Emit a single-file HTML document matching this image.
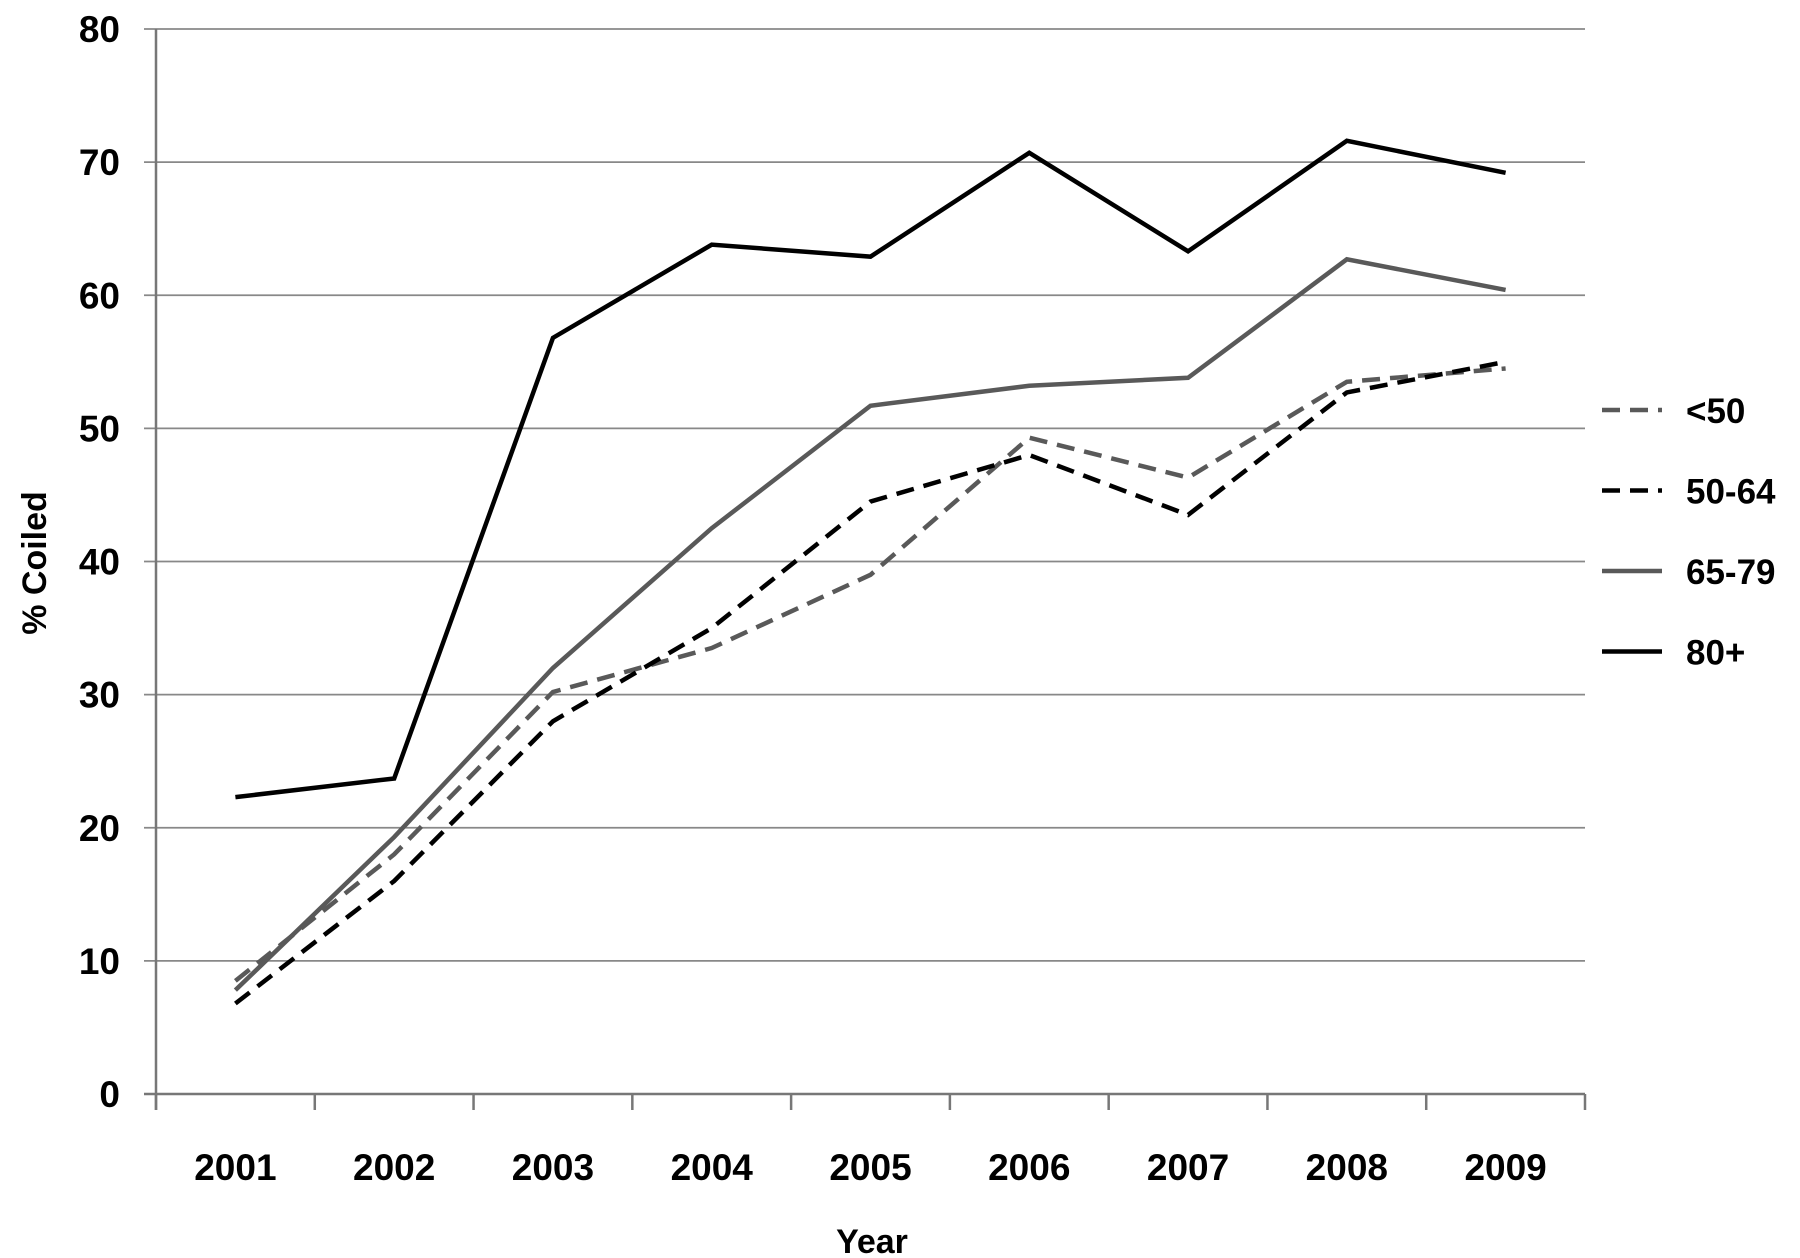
<!DOCTYPE html>
<html><head><meta charset="utf-8"><style>
html,body{margin:0;padding:0;background:#fff;}
svg{display:block;font-family:"Liberation Sans",sans-serif;font-weight:bold;}
</style></head><body>
<svg id="chart" width="1800" height="1258" viewBox="0 0 1800 1258" xmlns="http://www.w3.org/2000/svg">
<g id="grid"></g>
<g id="axes"></g>
<g id="series"></g>
<g id="legend"></g>
<text x="872" y="1253" font-size="34" text-anchor="middle">Year</text>
<text transform="translate(46,563) rotate(-90)" font-size="34" text-anchor="middle">% Coiled</text>
</svg>
<script>
const categories = ["2001","2002","2003","2004","2005","2006","2007","2008","2009"];
const yTicks = [0,10,20,30,40,50,60,70,80];
const seriesNames = ["<50","50-64","65-79","80+"];
const under50 = [8.5,18,30.2,33.5,39,49.3,46.3,53.5,54.5];
const age50to64 = [6.8,16,28,35,44.5,48,43.5,52.7,55];
const age65to79 = [7.8,19.3,32,42.5,51.7,53.2,53.8,62.7,60.4];
const age80plus = [22.3,23.7,56.8,63.8,62.9,70.7,63.3,71.6,69.2];

const NS="http://www.w3.org/2000/svg";
const x0=156,x1=1585,yb=1094,yt=29,ymax=80;
const bw=(x1-x0)/categories.length;
const xs=i=>x0+bw*(i+0.5);
const ys=v=>yb-(v/ymax)*(yb-yt);
function mk(tag,attrs,parent){const e=document.createElementNS(NS,tag);for(const k in attrs)e.setAttribute(k,attrs[k]);parent.appendChild(e);return e;}
const grid=document.getElementById('grid'),axes=document.getElementById('axes'),series=document.getElementById('series'),legend=document.getElementById('legend');
yTicks.forEach(t=>{
  const y=ys(t);
  const l=mk('line',{x1:x0-12,x2:x1,y1:y,y2:y,stroke:t===0?'#777':'#888','stroke-width':t===0?2.5:1.8},grid);
  
  
  const tx=mk('text',{x:120,y:y+13,'font-size':37,'text-anchor':'end'},axes);
  tx.textContent=t;
  
  
});
const ya=mk('line',{x1:x0,x2:x0,y1:yt,y2:yb+16,stroke:'#777','stroke-width':2.5},axes);


for(let i=0;i<=categories.length;i++){
  const tk=mk('line',{x1:x0+bw*i,x2:x0+bw*i,y1:yb,y2:yb+16,stroke:'#777','stroke-width':2.5},axes);
  
  
}
categories.forEach((c,i)=>{
  const tx=mk('text',{x:xs(i),y:1180,'font-size':37,'text-anchor':'middle'},axes);
  tx.textContent=c;
  
  
});
const styles=[
  {data:under50,color:'#595959',dash:'18,10'},
  {data:age50to64,color:'#000',dash:'18,10'},
  {data:age65to79,color:'#595959',dash:''},
  {data:age80plus,color:'#000',dash:''}
];
styles.forEach((s,k)=>{
  const pts=s.data.map((v,i)=>xs(i)+','+ys(v)).join(' ');
  const p=mk('polyline',{points:pts,fill:'none',stroke:s.color,'stroke-width':4.5,'stroke-linejoin':'miter'},series);
  if(s.dash)p.setAttribute('stroke-dasharray',s.dash);
  
  
  const ly=410+k*80.5;
  const g=mk('g',{},legend);
  
  
  const ll=mk('line',{x1:1602,x2:1662,y1:ly,y2:ly,stroke:s.color,'stroke-width':4.5},g);
  if(s.dash)ll.setAttribute('stroke-dasharray',s.dash);
  const lt=mk('text',{x:1686,y:ly+13,'font-size':35},g);
  lt.textContent=seriesNames[k];
});
</script>
</body></html>
